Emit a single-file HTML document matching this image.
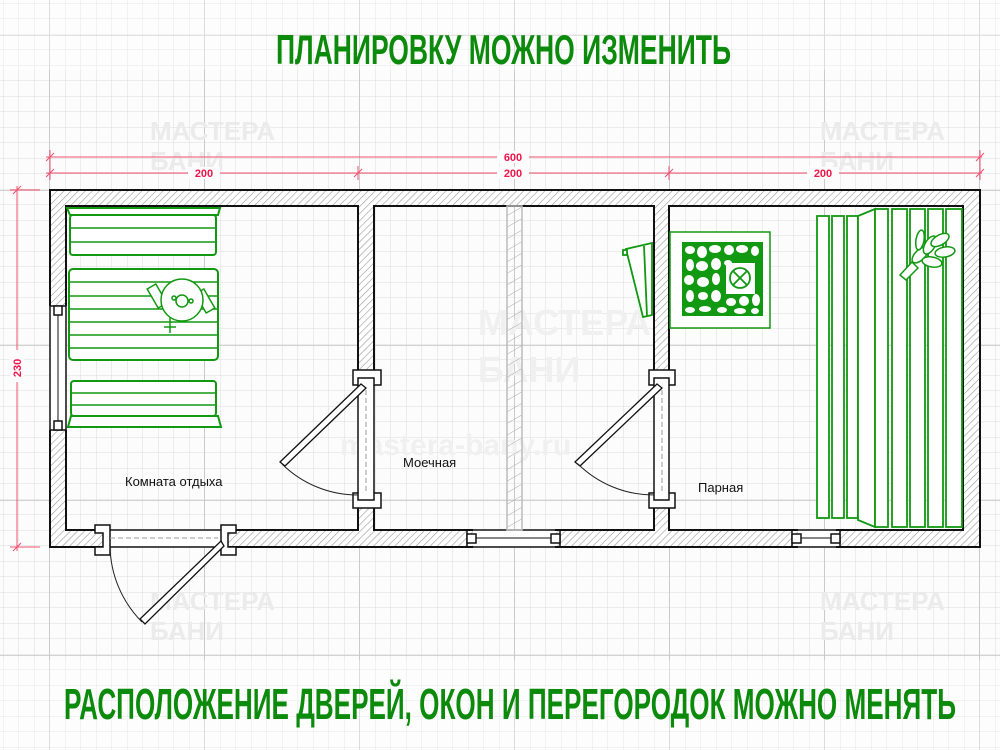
<!DOCTYPE html>
<html><head><meta charset="utf-8"><style>
html,body{margin:0;padding:0;background:#fff}
svg{display:block}
</style></head><body>
<svg width="1000" height="750" viewBox="0 0 1000 750" xmlns="http://www.w3.org/2000/svg" font-family="Liberation Sans, sans-serif">
<defs>
<pattern id="minor" x="3" y="3" width="15.5" height="15.5" patternUnits="userSpaceOnUse">
<path d="M0 0H15.5M0 0V15.5" stroke="#dcdcdc" stroke-width="1" fill="none"/>
</pattern>
<pattern id="major" x="49" y="35" width="155" height="155" patternUnits="userSpaceOnUse">
<path d="M0 0H155M0 0V155" stroke="#c4c4c4" stroke-width="1.5" fill="none"/>
</pattern>
<pattern id="hatch" width="5" height="5" patternUnits="userSpaceOnUse" patternTransform="rotate(45)">
<rect width="5" height="5" fill="#fff"/>
<line x1="0" y1="0" x2="0" y2="5" stroke="#999" stroke-width="1.2"/>
</pattern>
<pattern id="hatch2" width="10" height="10" patternUnits="userSpaceOnUse" patternTransform="rotate(60)">
<line x1="0" y1="0" x2="0" y2="10" stroke="#aaa" stroke-width="1"/>
</pattern>
</defs>
<rect width="1000" height="750" fill="#fcfcfc"/>
<rect width="1000" height="750" fill="url(#minor)"/>
<rect width="1000" height="750" fill="url(#major)"/>
<rect x="0" y="0" width="1000" height="70" fill="#fff" opacity="0.35"/>
<rect x="0" y="660" width="1000" height="90" fill="#fff" opacity="0.35"/>

<!-- watermarks -->
<g fill="#ebebeb" font-weight="bold">
<text x="150" y="140" font-size="26">МАСТЕРА</text><text x="150" y="170" font-size="26">БАНИ</text>
<text x="820" y="140" font-size="26">МАСТЕРА</text><text x="820" y="170" font-size="26">БАНИ</text>
<text x="150" y="610" font-size="26">МАСТЕРА</text><text x="150" y="640" font-size="26">БАНИ</text>
<text x="820" y="610" font-size="26">МАСТЕРА</text><text x="820" y="640" font-size="26">БАНИ</text>
</g>

<!-- titles -->
<text x="276" y="64" font-family="Liberation Sans Narrow, Liberation Sans, sans-serif" font-weight="bold" font-size="42" fill="#0b8a0b" textLength="455" lengthAdjust="spacingAndGlyphs">ПЛАНИРОВКУ МОЖНО ИЗМЕНИТЬ</text>
<text x="64" y="719" font-family="Liberation Sans Narrow, Liberation Sans, sans-serif" font-weight="bold" font-size="44" fill="#0b8a0b" textLength="892" lengthAdjust="spacingAndGlyphs">РАСПОЛОЖЕНИЕ ДВЕРЕЙ, ОКОН И ПЕРЕГОРОДОК МОЖНО МЕНЯТЬ</text>

<!-- dimensions -->
<g stroke="#f0506e" stroke-width="1" fill="none">
<line x1="46" y1="157" x2="982" y2="157"/>
<line x1="46" y1="173" x2="982" y2="173"/>
<line x1="50" y1="150" x2="50" y2="180"/><line x1="980" y1="150" x2="980" y2="180"/>
<line x1="358" y1="166" x2="358" y2="180"/><line x1="669" y1="166" x2="669" y2="180"/>
<path d="M46 161l8-8M46 177l8-8M976 161l8-8M976 177l8-8M354 177l8-8M665 177l8-8"/>
<line x1="17" y1="186" x2="17" y2="551"/>
<line x1="10" y1="190" x2="40" y2="190"/><line x1="10" y1="547" x2="40" y2="547"/>
<path d="M13 194l8-8M13 551l8-8"/>
</g>
<g fill="#f0144a" font-size="11" font-weight="bold" text-anchor="middle">
<rect x="497" y="151" width="32" height="12" fill="#fcfcfc"/><text x="513" y="161">600</text>
<rect x="188" y="167" width="32" height="12" fill="#fcfcfc"/><text x="204" y="177">200</text>
<rect x="497" y="167" width="32" height="12" fill="#fcfcfc"/><text x="513" y="177">200</text>
<rect x="807" y="167" width="32" height="12" fill="#fcfcfc"/><text x="823" y="177">200</text>
<rect x="10" y="350" width="14" height="32" fill="#fcfcfc"/>
<text x="0" y="0" transform="translate(21,368) rotate(-90)">230</text>
</g>

<!-- walls -->
<path fill-rule="evenodd" fill="url(#hatch)" stroke="#111" stroke-width="2"
 d="M50 190H980V547H50Z M66 206H358V530H66Z M374 206H654V530H374Z M669 206H963V530H669Z"/>
<!-- room watermark -->
<g fill="#f0f0f0" font-weight="bold">
<text x="478" y="335" font-size="36">МАСТЕРА</text><text x="478" y="382" font-size="36">БАНИ</text>
<text x="340" y="455" font-size="30">mastera-bany.ru</text>
</g>
<!-- openings (white) -->
<g fill="#fff" stroke="none">
<rect x="49" y="306" width="18" height="124"/>
<rect x="103" y="529" width="125" height="19"/>
<rect x="357" y="378" width="18" height="122"/>
<rect x="653" y="378" width="17" height="122"/>
<rect x="473" y="529" width="82" height="19"/>
<rect x="798" y="529" width="38" height="19"/>
</g>
<g fill="#fff" stroke="#111" stroke-width="1.5">
<rect x="50" y="306" width="16" height="124" fill="none"/>
<rect x="54" y="306" width="8" height="9"/><rect x="54" y="421" width="8" height="9"/>
<line x1="58" y1="315" x2="58" y2="421" stroke-width="1"/>
<path d="M95 525H110V555H95V547H103V533H95Z"/>
<path d="M236 525H221V555H236V547H228V533H236Z"/>
<line x1="110" y1="530" x2="221" y2="530"/><line x1="110" y1="547" x2="221" y2="547"/>
<path d="M353 370H381V385H374V378H358V385H353Z"/>
<path d="M353 508H381V493H374V500H358V493H353Z"/>
<line x1="358" y1="385" x2="358" y2="493"/><line x1="374" y1="385" x2="374" y2="493"/>
<path d="M649 370H675V385H669V378H654V385H649Z"/>
<path d="M649 508H675V493H669V500H654V493H649Z"/>
<line x1="654" y1="385" x2="654" y2="493"/><line x1="669" y1="385" x2="669" y2="493"/>
<rect x="467" y="530" width="93" height="17" fill="none"/>
<rect x="467" y="534" width="9" height="9"/><rect x="551" y="534" width="9" height="9"/>
<line x1="476" y1="538" x2="551" y2="538" stroke-width="1"/>
<rect x="792" y="530" width="48" height="17" fill="none"/>
<rect x="792" y="534" width="9" height="9"/><rect x="831" y="534" width="9" height="9"/>
<line x1="801" y1="538" x2="831" y2="538" stroke-width="1"/>
</g>
<g stroke="#999" stroke-dasharray="5 3" stroke-width="1" fill="none">
<line x1="110" y1="538" x2="218" y2="538"/>
<line x1="366" y1="390" x2="366" y2="492"/>
<line x1="662" y1="390" x2="662" y2="492"/>
</g>
<!-- doors -->
<g stroke="#111" stroke-width="1.3" fill="#fff">
<path d="M221 541L224 546L145 624L140 619Z"/>
<path d="M361 384L366 388L285 466L280 462Z"/>
<path d="M657 384L662 388L580 466L575 462Z"/>
</g>
<g stroke="#222" stroke-width="1" fill="none">
<path d="M110 546A110 110 0 0 0 142 622"/>
<path d="M282 464A108 108 0 0 0 358 495"/>
<path d="M578 464A108 108 0 0 0 654 495"/>
</g>
<rect x="507" y="206" width="15" height="324" fill="url(#hatch2)" stroke="#bbb" stroke-width="1.5"/>

<!-- furniture rest room -->
<g stroke="#119911" stroke-width="2" fill="#fff">
<path d="M67 208H220L218 215H70Z"/>
<rect x="70" y="215" width="146" height="40" rx="3"/>
<rect x="69" y="269" width="149" height="91" rx="4"/>
<rect x="71" y="381" width="145" height="35" rx="3"/>
<path d="M68 427H221L218 416H71Z"/>
</g>
<g stroke="#119911" stroke-width="1.5">
<line x1="71" y1="228" x2="215" y2="228"/><line x1="71" y1="242" x2="215" y2="242"/>
<line x1="70" y1="282" x2="217" y2="282"/><line x1="70" y1="296" x2="217" y2="296"/>
<line x1="70" y1="309" x2="217" y2="309"/><line x1="70" y1="322" x2="217" y2="322"/>
<line x1="70" y1="335" x2="217" y2="335"/><line x1="70" y1="348" x2="217" y2="348"/>
<line x1="72" y1="393" x2="215" y2="393"/><line x1="72" y1="405" x2="215" y2="405"/>
</g>
<g stroke="#119911" stroke-width="1.5" fill="#fff">
<rect x="152" y="285" width="10" height="22" transform="rotate(-30 157 296)"/>
<rect x="200" y="290" width="10" height="22" transform="rotate(-30 205 301)"/>
<circle cx="182" cy="300" r="21"/>
<circle cx="182" cy="301" r="6"/><circle cx="174" cy="298" r="2"/><circle cx="191" cy="301" r="2"/>
<path d="M170 318V333M164 327H176"/>
</g>
<text x="125" y="486" font-size="13" fill="#111">Комната отдыха</text>
<text x="403" y="467" font-size="13" fill="#111">Моечная</text>
<text x="698" y="492" font-size="13" fill="#111">Парная</text>

<g stroke="#119911" stroke-width="1.8" fill="#fff">
<path d="M626 249L652 243V315L643 317Z"/>
<line x1="644" y1="246" x2="647" y2="316"/>
<rect x="623" y="250" width="4" height="5"/>
</g>
<g stroke="#119911" stroke-width="2" fill="#fff">
<rect x="670" y="232" width="100" height="96" stroke-width="1.5"/>
<rect x="683" y="243" width="79" height="72" fill="#119911"/>
</g>
<g fill="#fff">
<ellipse cx="690" cy="250" rx="5" ry="4"/><ellipse cx="702" cy="252" rx="5" ry="6"/><ellipse cx="715" cy="249" rx="6" ry="4"/><ellipse cx="729" cy="250" rx="5" ry="5"/><ellipse cx="742" cy="249" rx="6" ry="4"/><ellipse cx="755" cy="251" rx="4" ry="5"/>
<ellipse cx="690" cy="265" rx="4" ry="6"/><ellipse cx="702" cy="266" rx="6" ry="5"/><ellipse cx="716" cy="264" rx="5" ry="6"/><ellipse cx="728" cy="263" rx="4" ry="3"/>
<ellipse cx="689" cy="280" rx="5" ry="5"/><ellipse cx="703" cy="282" rx="6" ry="5"/><ellipse cx="716" cy="279" rx="4" ry="6"/>
<ellipse cx="690" cy="296" rx="4" ry="6"/><ellipse cx="703" cy="296" rx="5" ry="4"/><ellipse cx="716" cy="296" rx="5" ry="6"/><ellipse cx="731" cy="302" rx="5" ry="4"/><ellipse cx="744" cy="301" rx="5" ry="5"/><ellipse cx="756" cy="300" rx="4" ry="6"/>
<ellipse cx="690" cy="310" rx="5" ry="3"/><ellipse cx="705" cy="309" rx="6" ry="3"/><ellipse cx="722" cy="310" rx="5" ry="3"/><ellipse cx="740" cy="311" rx="6" ry="3"/><ellipse cx="755" cy="311" rx="4" ry="3"/>
<rect x="726" y="263" width="29" height="31"/>
</g>
<g stroke="#119911" stroke-width="1.8" fill="none">
<circle cx="740" cy="278" r="10"/><path d="M733 271L747 285M747 271L733 285"/>
</g>
<g stroke="#119911" stroke-width="1.8" fill="#fff">
<rect x="817" y="216" width="12" height="302"/>
<rect x="832" y="216" width="12" height="302"/>
<rect x="847" y="216" width="11" height="302"/>
<path d="M858 216L875 209V527L858 520Z"/>
<rect x="875" y="209" width="13" height="318"/>
<rect x="892" y="209" width="15" height="318"/>
<rect x="910" y="209" width="15" height="318"/>
<rect x="928" y="209" width="15" height="318"/>
<rect x="946" y="209" width="16" height="318"/>
</g>
<g stroke="#119911" stroke-width="1.5" fill="#fff">
<path d="M900 275L912 262L918 268L906 280Z"/>
<ellipse cx="920" cy="255" rx="10" ry="5" transform="rotate(-45 920 255)"/>
<ellipse cx="930" cy="245" rx="10" ry="5" transform="rotate(-60 930 245)"/>
<ellipse cx="940" cy="240" rx="10" ry="5" transform="rotate(-30 940 240)"/>
<ellipse cx="945" cy="252" rx="10" ry="5" transform="rotate(-10 945 252)"/>
<ellipse cx="932" cy="262" rx="10" ry="5" transform="rotate(10 932 262)"/>
<ellipse cx="920" cy="240" rx="10" ry="4" transform="rotate(-80 920 240)"/>
</g>
</svg>
</body></html>
